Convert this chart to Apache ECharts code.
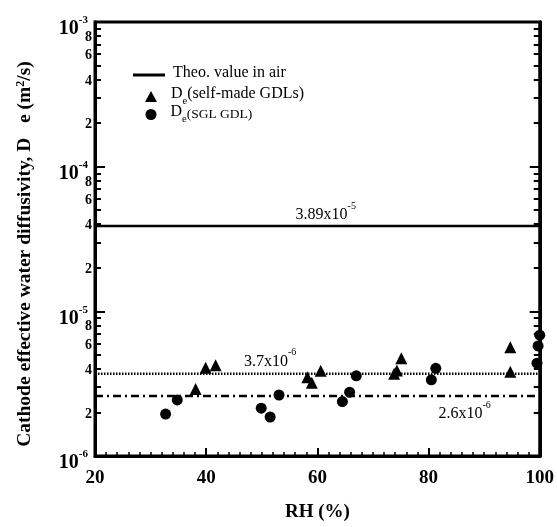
<!DOCTYPE html>
<html>
<head>
<meta charset="utf-8">
<script src="https://cdn.jsdelivr.net/npm/echarts@6/dist/echarts.min.js"></script>
<style>
  html, body { margin: 0; padding: 0; background: #fff; }
  #chart { width: 557px; height: 527px; }
</style>
</head>
<body>
<div id="chart"></div>
<script>
var selfMadeRH = [38.1, 39.9, 41.7, 58.2, 59.0, 60.6, 73.8, 74.3, 75.1, 94.7, 94.7];
var selfMadeDe = [2.91e-6, 4.08e-6, 4.24e-6, 3.50e-6, 3.21e-6, 3.89e-6, 3.70e-6, 3.90e-6, 4.74e-6, 5.65e-6, 3.83e-6];
var sglRH = [32.7, 34.8, 49.9, 51.5, 53.1, 64.5, 65.8, 67.0, 80.5, 81.3, 99.5, 99.7, 100];
var sglDe = [1.95e-6, 2.44e-6, 2.14e-6, 1.86e-6, 2.64e-6, 2.38e-6, 2.76e-6, 3.58e-6, 3.36e-6, 4.04e-6, 4.38e-6, 5.77e-6, 6.84e-6];
var theoAir = 3.89e-5;
var avgSelfMade = 3.7e-6;
var avgSGL = 2.6e-6;
var rhRange = [20, 100];

// tick labels
var decades = [1e-6, 1e-5, 1e-4, 1e-3];
var minorMant = [2, 3, 4, 5, 6, 7, 8, 9];
var labelMant = [2, 4, 6, 8];

var minorTicks = [], minorLabels = [];
for (var d = 0; d < decades.length - 1; d++) {
    minorMant.forEach(function (m) { minorTicks.push(m * decades[d]); });
    labelMant.forEach(function (m) { minorLabels.push(m * decades[d]); });
}

var serif = 'Liberation Serif';
var supRich = {
    n: { fontFamily: serif, fontSize: 16, color: '#000', lineHeight: 22, verticalAlign: 'bottom' },
    sup: { fontFamily: serif, fontSize: 10, color: '#000', lineHeight: 10, verticalAlign: 'top' }
};
var legendRich = {
    t: { fontFamily: serif, fontSize: 16, color: '#000', lineHeight: 20, verticalAlign: 'top' },
    ts: { fontFamily: serif, fontSize: 13.5, color: '#000', lineHeight: 18, verticalAlign: 'top', padding: [3, 0, 0, 0] },
    sub: { fontFamily: serif, fontSize: 10.5, color: '#000', lineHeight: 21, verticalAlign: 'bottom' }
};

function pairs(xs, ys) {
    return xs.map(function (x, i) { return [x, ys[i]]; });
}

function logAxis(pos, ticks, tickLen, labels, labelFmt, margin, pad) {
    return {
        type: 'log', logBase: 10, min: 1e-6, max: 1e-3, position: pos,
        axisLine: { show: true, lineStyle: { color: '#000', width: 3 } },
        splitLine: { show: false },
        axisTick: { show: true, inside: true, length: tickLen, customValues: ticks, lineStyle: { color: '#000', width: 2 } },
        axisLabel: labels ? {
            show: true, customValues: labels, margin: margin, formatter: labelFmt, padding: pad,
            rich: {
                b: { fontFamily: serif, fontWeight: 'bold', fontSize: 20, color: '#000', lineHeight: 24, verticalAlign: 'bottom' },
                s: { fontFamily: serif, fontWeight: 'bold', fontSize: 11, color: '#000', lineHeight: 11, verticalAlign: 'top' },
                m: { fontFamily: serif, fontWeight: 'bold', fontSize: 14, color: '#000' }
            }
        } : { show: false }
    };
}

function decadeLabel(v) {
    return '{b|10}{s|' + Math.round(Math.log10(v)) + '}';
}
function mantLabel(v) {
    var e = Math.floor(Math.log10(v) + 1e-9);
    return '{m|' + Math.round(v / Math.pow(10, e)) + '}';
}

function legendFor(name, icon, w, h, left, centerY, padLeft) {
    return {
        orient: 'vertical', left: left, top: centerY - 10, padding: 0,
        itemWidth: w, itemHeight: h,
        data: [{ name: name, icon: icon }],
        formatter: function (n) {
            if (n == 'De(self-made GDLs)') return '{t|D}{sub|e}{t|(self-made GDLs)}';
            if (n == 'De(SGL GDL)') return '{t|D}{sub|e}{ts|(SGL GDL)}';
            return '{t|' + n + '}';
        },
        textStyle: { fontFamily: serif, fontSize: 16, color: '#000', padding: [0, 0, 0, padLeft], rich: legendRich }
    };
}

var option = {
    animation: false,
    backgroundColor: '#fff',
    grid: { left: 95, right: 17, top: 22, bottom: 71, show: true, borderColor: '#000', borderWidth: 3 },
    legend: [
        legendFor('Theo. value in air', 'rect', 32, 3, 133, 75, 3),
        legendFor('De(self-made GDLs)', 'triangle', 12, 11, 145, 96, 9),
        legendFor('De(SGL GDL)', 'circle', 11, 11, 145.5, 114, 9)
    ],
    xAxis: {
        type: 'value', min: rhRange[0], max: rhRange[1], interval: 20,
        name: 'RH (%)', nameLocation: 'middle', nameGap: 47,
        nameTextStyle: { fontFamily: serif, fontWeight: 'bold', fontSize: 19, color: '#000' },
        axisLine: { show: true, lineStyle: { color: '#000', width: 3 } },
        splitLine: { show: false },
        axisTick: { show: true, inside: true, length: 8, lineStyle: { color: '#000', width: 2 } },
        minorTick: { show: true, splitNumber: 10, length: 4, lineStyle: { color: '#000', width: 1.5 } },
        axisLabel: { fontFamily: serif, fontWeight: 'bold', fontSize: 19, color: '#000', margin: 13 }
    },
    yAxis: [
        Object.assign(logAxis('left', decades, 10, decades, decadeLabel, 7, [10, 0, 0, 0]), {
            name: 'Cathode effective water diffusivity, D   e (m{sup|2}/s)',
            nameLocation: 'middle', nameGap: 60, nameRotate: 90,
            nameTextStyle: {
                fontFamily: serif, fontWeight: 'bold', fontSize: 19.5, color: '#000', padding: [0, 30, 0, 0],
                rich: {
                    sup: { fontFamily: serif, fontWeight: 'bold', fontSize: 12, color: '#000', verticalAlign: 'top', lineHeight: 12 }
                }
            }
        }),
        logAxis('left', minorTicks, 6, minorLabels, mantLabel, 3, [3, 0, 0, 0]),
        logAxis('right', decades, 10, null),
        logAxis('right', minorTicks, 6, null)
    ],
    series: [
        {
            name: 'Theo. value in air', type: 'line', symbol: 'none',
            data: pairs(rhRange, [theoAir, theoAir]),
            lineStyle: { color: '#000', width: 2.5 }, itemStyle: { color: '#000' },
            markPoint: {
                symbol: 'circle', symbolSize: 0,
                data: [{ coord: [61.5, theoAir], label: { show: true, position: 'top', distance: 3, formatter: '{n|3.89x10}{sup|-5}', rich: supRich } }]
            }
        },
        {
            name: 'avgSelfMade', type: 'line', symbol: 'none',
            data: pairs(rhRange, [avgSelfMade, avgSelfMade]),
            lineStyle: { color: '#000', width: 2.5, type: [1.5, 1.5] },
            markPoint: {
                symbol: 'circle', symbolSize: 0,
                data: [{ coord: [51.5, avgSelfMade], label: { show: true, position: 'top', distance: 4, formatter: '{n|3.7x10}{sup|-6}', rich: supRich } }]
            }
        },
        {
            name: 'avgSGL', type: 'line', symbol: 'none',
            data: pairs(rhRange, [avgSGL, avgSGL]),
            lineStyle: { color: '#000', width: 2.5, type: [8, 4, 2, 4] },
            markPoint: {
                symbol: 'circle', symbolSize: 0,
                data: [{ coord: [86.5, avgSGL], label: { show: true, position: 'bottom', distance: 4, formatter: '{n|2.6x10}{sup|-6}', rich: supRich } }]
            }
        },
        {
            name: 'De(self-made GDLs)', type: 'scatter', symbol: 'triangle', symbolSize: 12, clip: false,
            data: pairs(selfMadeRH, selfMadeDe), itemStyle: { color: '#000', opacity: 1 }
        },
        {
            name: 'De(SGL GDL)', type: 'scatter', symbol: 'circle', symbolSize: 11, clip: false,
            data: pairs(sglRH, sglDe), itemStyle: { color: '#000', opacity: 1 }
        }
    ]
};

var chart = echarts.init(document.getElementById('chart'), null, { renderer: 'canvas' });
chart.setOption(option);
</script>
</body>
</html>
